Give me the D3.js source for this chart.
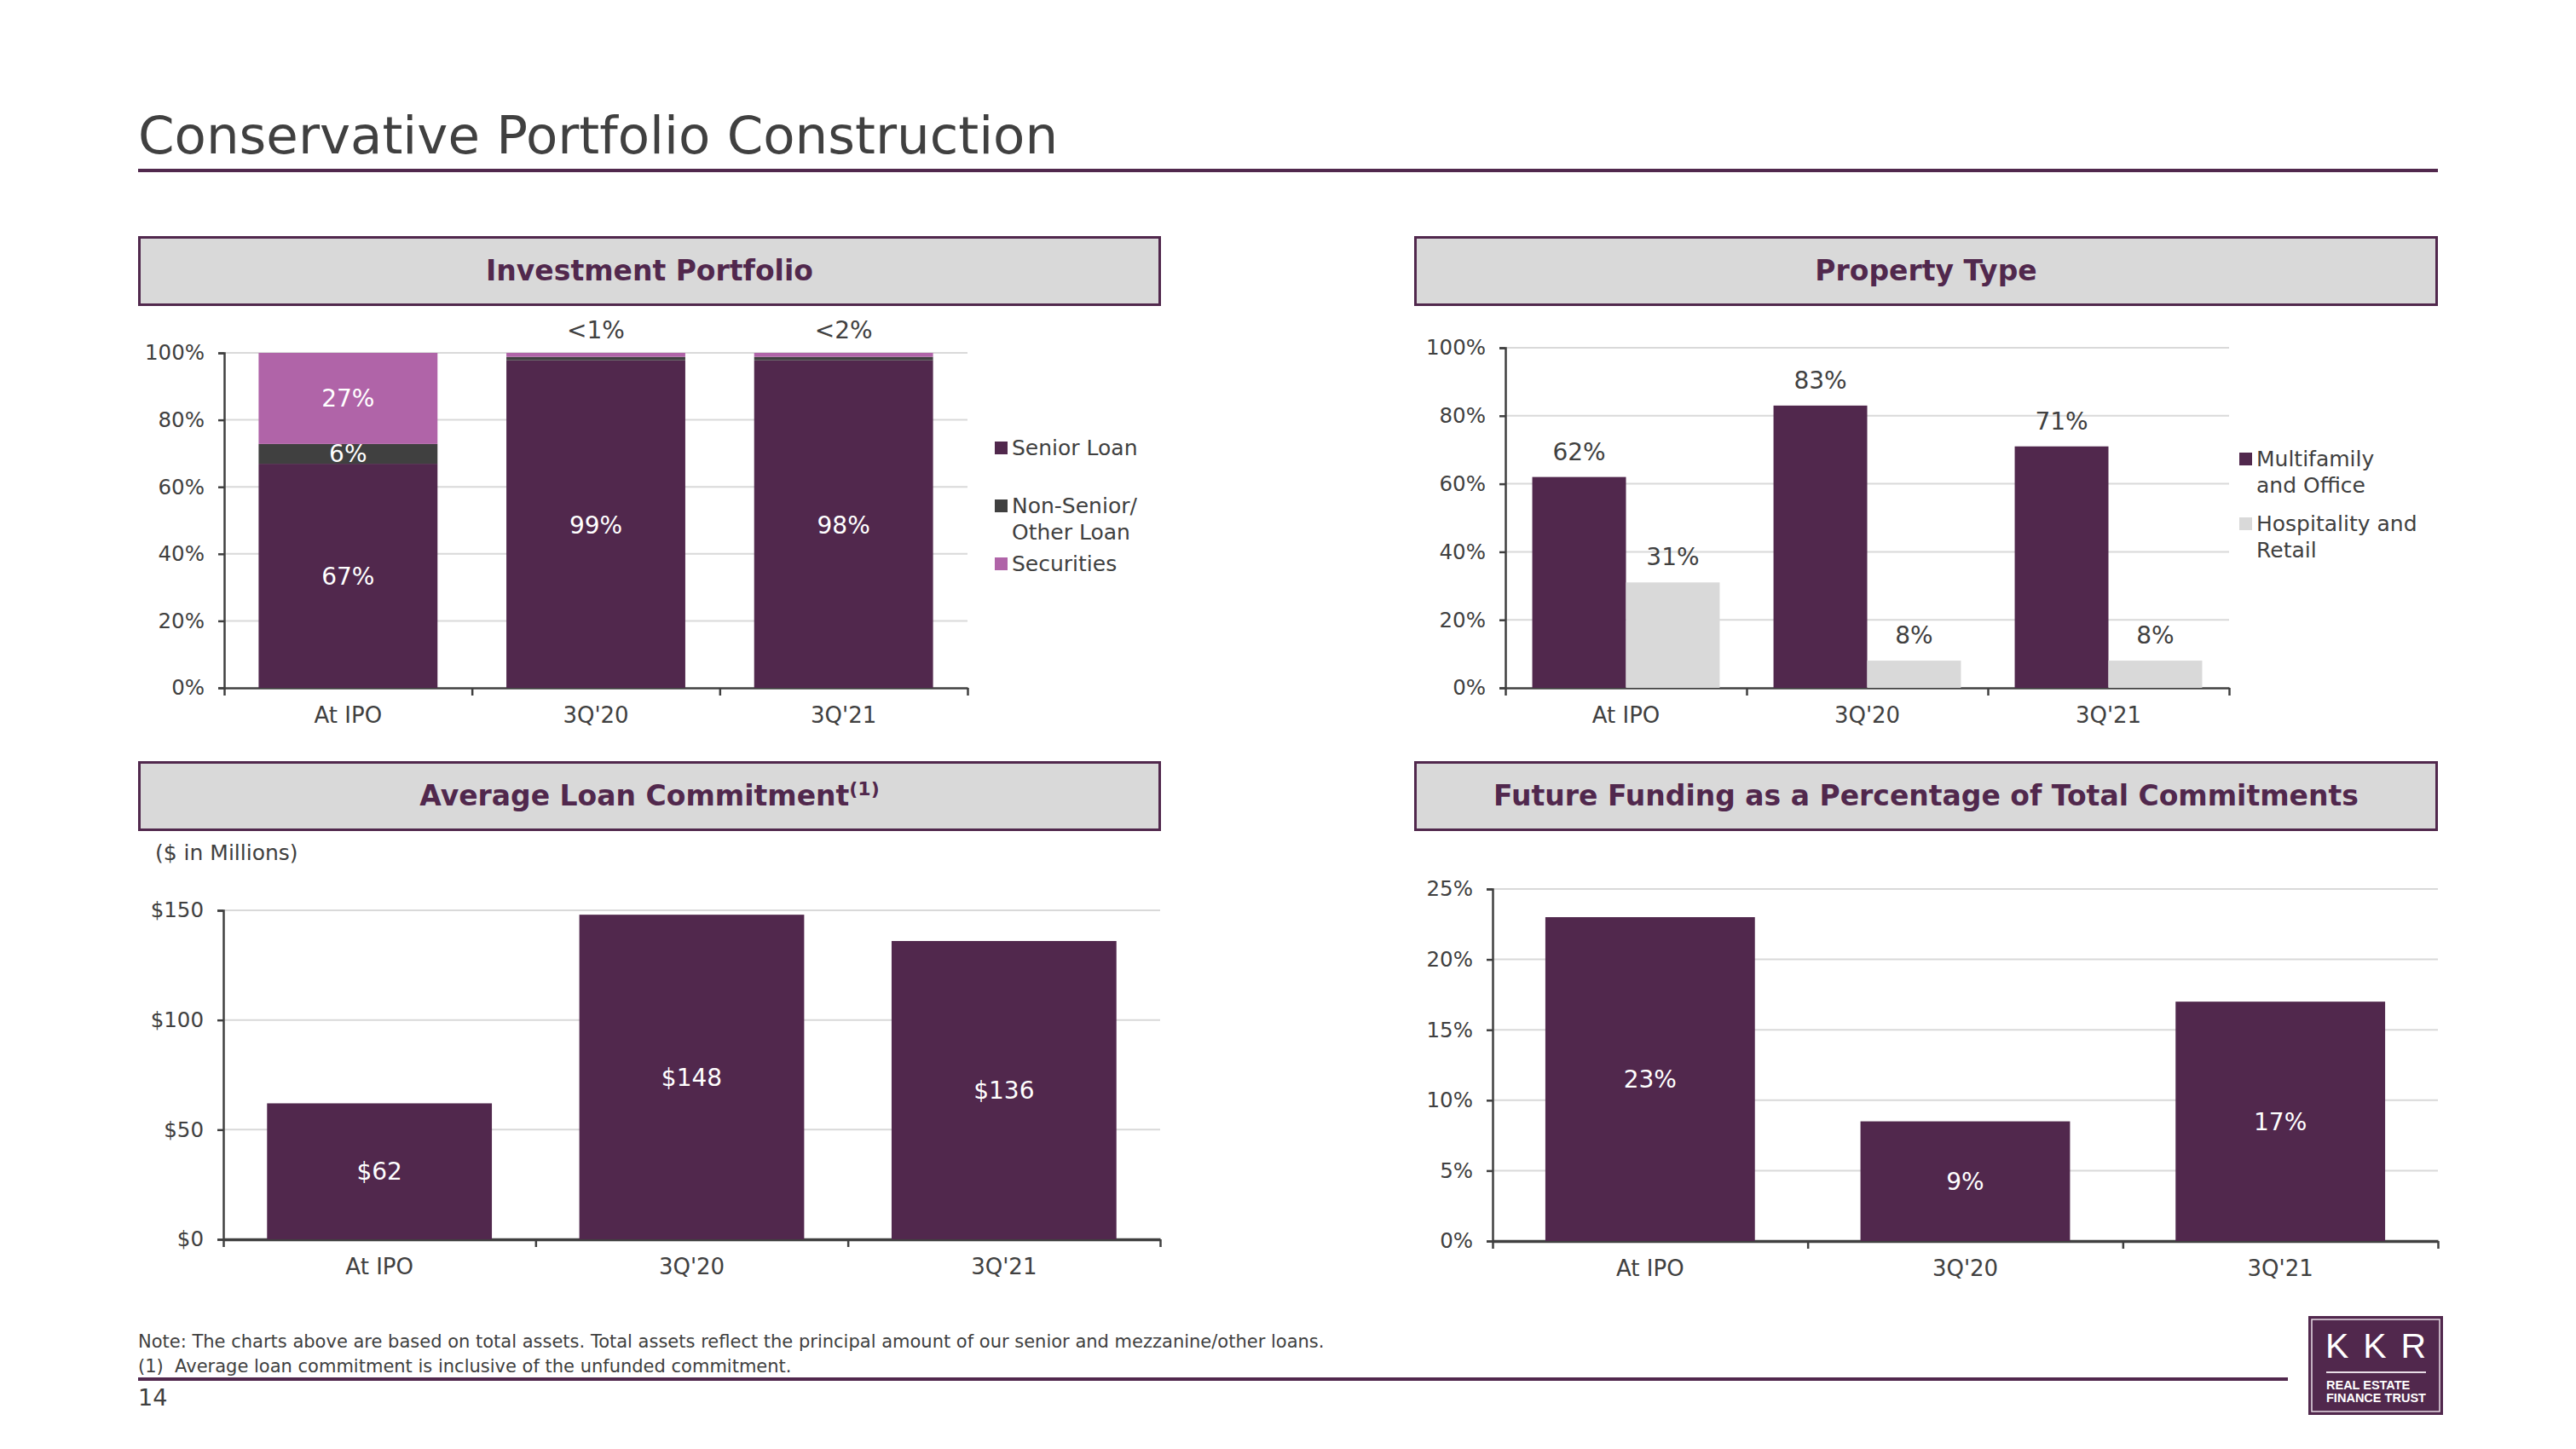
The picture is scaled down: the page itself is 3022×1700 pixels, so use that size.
<!DOCTYPE html>
<html>
<head>
<meta charset="utf-8">
<script src="https://cdn.jsdelivr.net/npm/d3@7"></script>
<style>
  html, body { margin: 0; padding: 0; background: #ffffff; }
  svg { display: block; font-family: "DejaVu Sans", Verdana, sans-serif; }
</style>
</head>
<body>
<svg id="page" width="3022" height="1700"></svg>
<script>
// ---------------- DATA ----------------
const categories = ["At IPO", "3Q'20", "3Q'21"];

// Investment Portfolio (stacked, % of total)
const portfolioSeries = ["Senior Loan", "Non-Senior/\nOther Loan", "Securities"];
const seniorLoan = [66.9, 97.8, 97.8];
const nonSeniorLoan = [5.9, 1.0, 1.0];
const securities = [27.2, 1.2, 1.2];
const seniorLabels = ["67%", "99%", "98%"];
const nonSeniorLabels = ["6%", "", ""];
const securitiesLabels = ["27%", "", ""];
const topLabels = ["", "<1%", "<2%"];

// Property Type (grouped, %)
const propertySeries = ["Multifamily\nand Office", "Hospitality and\nRetail"];
const multifamilyOffice = [62, 83, 71];
const hospitalityRetail = [31, 8, 8];

// Average Loan Commitment ($ in millions)
const avgLoanCommitment = [62, 148, 136];
const avgLoanLabels = ["$62", "$148", "$136"];

// Future Funding as % of Total Commitments
const futureFunding = [23, 8.5, 17];
const futureFundingLabels = ["23%", "9%", "17%"];

// Tick values
const pctTicks100 = [0, 20, 40, 60, 80, 100];
const dollarTicks = [0, 50, 100, 150];
const pctTicks25 = [0, 5, 10, 15, 20, 25];

// ---------------- STYLE ----------------
const PURPLE = "#51284d";
const DARKGRAY = "#404040";
const PINK = "#b064a8";
const LIGHTGRAY = "#d9d9d9";
const TEXT = "#404040";
const FONT = "'DejaVu Sans', Verdana, sans-serif";
const LABEL_SIZE = 28;

const svg = d3.select("#page");

// Page title
svg.append("text").attr("x", 162).attr("y", 180)
  .attr("font-size", 61).attr("fill", TEXT)
  .text("Conservative Portfolio Construction");
svg.append("rect").attr("x", 162).attr("y", 198).attr("width", 2698).attr("height", 4).attr("fill", PURPLE);

// Panel header boxes
function header(x, y, w, h, title, sup) {
  svg.append("rect").attr("x", x + 1.5).attr("y", y + 1.5).attr("width", w - 3).attr("height", h - 3)
    .attr("fill", LIGHTGRAY).attr("stroke", PURPLE).attr("stroke-width", 3);
  svg.append("rect").attr("x", x + 1.5).attr("y", y + h - 3).attr("width", w - 1.5).attr("height", 3).attr("fill", PURPLE);
  const t = svg.append("text").attr("x", x + w / 2).attr("y", y + 52)
    .attr("text-anchor", "middle").attr("font-size", 33).attr("font-weight", "bold").attr("fill", PURPLE);
  t.append("tspan").text(title);
  if (sup) t.append("tspan").attr("font-size", 22).attr("dy", -12).text(sup);
}
header(162, 277, 1200, 82, "Investment Portfolio");
header(1659, 277, 1201, 82, "Property Type");
header(162, 893, 1200, 82, "Average Loan Commitment", "(1)");
header(1659, 893, 1201, 82, "Future Funding as a Percentage of Total Commitments");

// Generic axes
function drawAxes(g, x, y, ticks, fmt, xAxisWidth) {
  const [x0, x1] = x.range();
  // gridlines
  g.append("g").selectAll("line").data(ticks.filter(d => d !== 0)).join("line")
    .attr("x1", x0).attr("x2", x1).attr("y1", d => y(d)).attr("y2", d => y(d))
    .attr("stroke", LIGHTGRAY).attr("stroke-width", 2);
  // y axis
  const ya = g.append("g").attr("transform", `translate(${x0},0)`)
    .call(d3.axisLeft(y).tickValues(ticks).tickFormat(fmt).tickSize(7).tickPadding(16));
  ya.select(".domain").attr("stroke", TEXT).attr("stroke-width", 2.5);
  ya.selectAll(".tick line").attr("stroke", TEXT).attr("stroke-width", 2.5);
  ya.selectAll(".tick text").attr("font-size", 24.5).attr("fill", TEXT).attr("font-family", FONT);
  // x axis: boundary ticks
  const y0 = y.range()[0];
  const bx = d3.scaleLinear().domain([0, categories.length]).range([x0, x1]);
  const xa = g.append("g").attr("transform", `translate(0,${y0})`)
    .call(d3.axisBottom(bx).tickValues(d3.range(categories.length + 1)).tickFormat("").tickSize(9).tickSizeOuter(0));
  xa.select(".domain").attr("stroke", TEXT).attr("stroke-width", xAxisWidth);
  xa.selectAll(".tick line").attr("stroke", TEXT).attr("stroke-width", 2.5);
  // category labels
  const xl = g.append("g").attr("transform", `translate(0,${y0})`)
    .call(d3.axisBottom(x).tickSize(0).tickPadding(23));
  xl.select(".domain").remove();
  xl.selectAll(".tick text").attr("font-size", 26).attr("fill", TEXT).attr("font-family", FONT);
}

function legend(g, x, items, colors, baselines) {
  items.forEach((name, i) => {
    const lines = name.split("\n");
    g.append("rect").attr("x", x).attr("y", baselines[i] - 16).attr("width", 15).attr("height", 15).attr("fill", colors[i]);
    const t = g.append("text").attr("x", x + 20).attr("y", baselines[i]).attr("font-size", 25).attr("fill", TEXT);
    lines.forEach((ln, j) => t.append("tspan").attr("x", x + 20).attr("dy", j === 0 ? 0 : 31).text(ln));
  });
}

const pctFmt = d => d + "%";

// ---------- Chart 1: Investment Portfolio ----------
{
  const g = svg.append("g");
  const x = d3.scaleBand().domain(categories).range([263, 1135]).paddingInner(0.278).paddingOuter(0.139);
  const y = d3.scaleLinear().domain([0, 100]).range([807, 414]);
  drawAxes(g, x, y, pctTicks100, pctFmt, 2.5);
  const rows = categories.map((c, i) => ({ cat: c, senior: seniorLoan[i], nonSenior: nonSeniorLoan[i], securities: securities[i] }));
  const keys = ["senior", "nonSenior", "securities"];
  const colors = [PURPLE, DARKGRAY, PINK];
  const labelSets = [seniorLabels, nonSeniorLabels, securitiesLabels];
  const stacked = d3.stack().keys(keys)(rows);
  stacked.forEach((layer, k) => {
    g.append("g").selectAll("rect").data(layer).join("rect")
      .attr("x", d => x(d.data.cat)).attr("width", x.bandwidth())
      .attr("y", d => y(d[1])).attr("height", d => y(d[0]) - y(d[1]))
      .attr("fill", colors[k]);
    g.append("g").selectAll("text").data(layer).join("text")
      .attr("x", d => x(d.data.cat) + x.bandwidth() / 2)
      .attr("y", (d, i) => {
        const top = (k === 0 && i > 0) ? y(100) + 10 : y(d[1]);
        return (top + y(d[0])) / 2 + 10;
      })
      .attr("text-anchor", "middle").attr("font-size", LABEL_SIZE).attr("fill", "#ffffff")
      .text((d, i) => labelSets[k][i]);
  });
  g.append("g").selectAll("text").data(categories).join("text")
    .attr("x", d => x(d) + x.bandwidth() / 2).attr("y", y(100) - 17)
    .attr("text-anchor", "middle").attr("font-size", LABEL_SIZE).attr("fill", TEXT)
    .text((d, i) => topLabels[i]);
  legend(g, 1167, portfolioSeries, colors, [534, 602, 670]);
}

// ---------- Chart 2: Property Type ----------
{
  const g = svg.append("g");
  const x0 = d3.scaleBand().domain(categories).range([1766, 2615]).paddingInner(0.223).paddingOuter(0.1115);
  const x1 = d3.scaleBand().domain([0, 1]).range([0, x0.bandwidth()]);
  const y = d3.scaleLinear().domain([0, 100]).range([807, 408]);
  drawAxes(g, x0, y, pctTicks100, pctFmt, 2.5);
  const series = [multifamilyOffice, hospitalityRetail];
  const colors = [PURPLE, LIGHTGRAY];
  series.forEach((vals, s) => {
    g.append("g").selectAll("rect").data(vals).join("rect")
      .attr("x", (d, i) => x0(categories[i]) + x1(s)).attr("width", x1.bandwidth())
      .attr("y", d => y(d)).attr("height", d => y(0) - y(d)).attr("fill", colors[s]);
    g.append("g").selectAll("text").data(vals).join("text")
      .attr("x", (d, i) => x0(categories[i]) + x1(s) + x1.bandwidth() / 2)
      .attr("y", d => y(d) - 20)
      .attr("text-anchor", "middle").attr("font-size", LABEL_SIZE).attr("fill", TEXT)
      .text(d => d + "%");
  });
  legend(g, 2627, propertySeries, colors, [547, 623]);
}

// ---------- Chart 3: Average Loan Commitment ----------
{
  const g = svg.append("g");
  svg.append("text").attr("x", 182).attr("y", 1009).attr("font-size", 25).attr("fill", TEXT).text("($ in Millions)");
  const x = d3.scaleBand().domain(categories).range([262, 1361]).paddingInner(0.28).paddingOuter(0.14);
  const y = d3.scaleLinear().domain([0, 150]).range([1454, 1068]);
  drawAxes(g, x, y, dollarTicks, d => "$" + d, 3.5);
  g.append("g").selectAll("rect").data(avgLoanCommitment).join("rect")
    .attr("x", (d, i) => x(categories[i])).attr("width", x.bandwidth())
    .attr("y", d => y(d)).attr("height", d => y(0) - y(d)).attr("fill", PURPLE);
  g.append("g").selectAll("text").data(avgLoanCommitment).join("text")
    .attr("x", (d, i) => x(categories[i]) + x.bandwidth() / 2)
    .attr("y", d => (y(d) + y(0)) / 2 + 10)
    .attr("text-anchor", "middle").attr("font-size", LABEL_SIZE).attr("fill", "#ffffff")
    .text((d, i) => avgLoanLabels[i]);
}

// ---------- Chart 4: Future Funding ----------
{
  const g = svg.append("g");
  const x = d3.scaleBand().domain(categories).range([1751, 2860]).paddingInner(0.335).paddingOuter(0.1675);
  const y = d3.scaleLinear().domain([0, 25]).range([1456, 1043]);
  drawAxes(g, x, y, pctTicks25, pctFmt, 3.5);
  g.append("g").selectAll("rect").data(futureFunding).join("rect")
    .attr("x", (d, i) => x(categories[i])).attr("width", x.bandwidth())
    .attr("y", d => y(d)).attr("height", d => y(0) - y(d)).attr("fill", PURPLE);
  g.append("g").selectAll("text").data(futureFunding).join("text")
    .attr("x", (d, i) => x(categories[i]) + x.bandwidth() / 2)
    .attr("y", d => (y(d) + y(0)) / 2 + 10)
    .attr("text-anchor", "middle").attr("font-size", LABEL_SIZE).attr("fill", "#ffffff")
    .text((d, i) => futureFundingLabels[i]);
}

// ---------- Footer ----------
svg.append("text").attr("x", 162).attr("y", 1581).attr("font-size", 21).attr("fill", TEXT)
  .text("Note: The charts above are based on total assets. Total assets reflect the principal amount of our senior and mezzanine/other loans.");
svg.append("text").attr("x", 162).attr("y", 1610).attr("font-size", 21).attr("fill", TEXT)
  .attr("xml:space", "preserve")
  .text("(1)  Average loan commitment is inclusive of the unfunded commitment.");
svg.append("rect").attr("x", 162).attr("y", 1616).attr("width", 2522).attr("height", 4).attr("fill", PURPLE);
svg.append("text").attr("x", 162).attr("y", 1649).attr("font-size", 27).attr("fill", TEXT).text("14");

// Logo
{
  const lx = 2708, ly = 1544, lw = 158, lh = 116;
  svg.append("rect").attr("x", lx).attr("y", ly).attr("width", lw).attr("height", lh).attr("fill", PURPLE);
  svg.append("rect").attr("x", lx + 4).attr("y", ly + 4).attr("width", lw - 8).attr("height", lh - 8)
    .attr("fill", "none").attr("stroke", "#e8dde6").attr("stroke-width", 1.5);
  svg.append("text").attr("x", lx + 20).attr("y", ly + 49).attr("font-size", 41).attr("fill", "#ffffff")
    .attr("font-family", "'Liberation Sans', Arial, sans-serif")
    .attr("textLength", 118).attr("lengthAdjust", "spacing").text("KKR");
  svg.append("rect").attr("x", lx + 21).attr("y", ly + 65).attr("width", 117).attr("height", 2).attr("fill", "#e8dde6");
  svg.append("text").attr("x", lx + 21).attr("y", ly + 86).attr("font-size", 14.5).attr("font-weight", "bold")
    .attr("fill", "#ffffff").attr("font-family", "'Liberation Sans', Arial, sans-serif").text("REAL ESTATE");
  svg.append("text").attr("x", lx + 21).attr("y", ly + 101).attr("font-size", 14.5).attr("font-weight", "bold")
    .attr("fill", "#ffffff").attr("font-family", "'Liberation Sans', Arial, sans-serif")
    .attr("textLength", 117).attr("lengthAdjust", "spacingAndGlyphs").text("FINANCE TRUST");
}
</script>
</body>
</html>
